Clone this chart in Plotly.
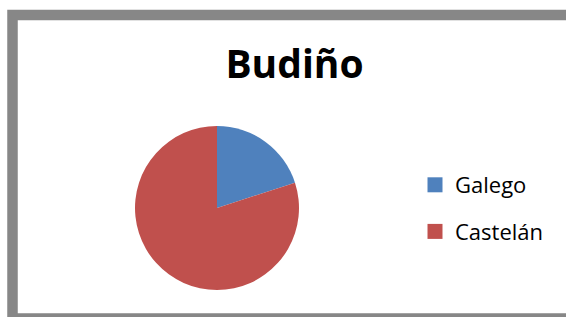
import plotly.graph_objects as go

labels = ["Galego", "Castelán"]
values = [20, 80]
colors = ["#4F81BD", "#C0504D"]
title_text = "Budiño"

W, H = 566, 317

fig = go.Figure()
fig.add_trace(go.Pie(
    labels=labels, values=values, sort=False, direction="clockwise", rotation=0,
    marker=dict(colors=colors, line=dict(width=0)),
    textinfo="none", hoverinfo="label+percent", showlegend=False,
    domain=dict(x=[135 / W, 299 / W], y=[27 / H, 191 / H]),
))
for i, (lab, col) in enumerate(zip(labels, colors)):
    fig.add_trace(go.Scatter(
        x=[None], y=[None], mode="markers", name=lab, legendgroup=lab,
        marker=dict(symbol="square", size=15, color=col),
        showlegend=True,
    ))

fig.update_layout(
    width=W, height=H,
    margin=dict(l=0, r=0, t=0, b=0),
    paper_bgcolor="white", plot_bgcolor="white",
    xaxis=dict(visible=False), yaxis=dict(visible=False),
    title=dict(text="<b>" + title_text + "</b>", x=294.5 / W, xanchor="center",
               y=(H - 64) / H, yanchor="middle", xref="paper", yref="paper",
               font=dict(family="Open Sans, sans-serif", size=39, color="black")),
    legend=dict(x=415 / W, xanchor="left", y=(H - 164) / H, yanchor="top",
                font=dict(family="Open Sans, sans-serif", size=22, color="black"),
                tracegroupgap=15, bgcolor="rgba(0,0,0,0)"),
    shapes=[dict(type="rect", xref="paper", yref="paper",
                 x0=12.5 / W, x1=580 / W, y0=(H - 318.5) / H, y1=(H - 15) / H,
                 line=dict(color="#878787", width=10.5), layer="above")],
)
fig.write_html("out.html", config=dict(displayModeBar=False),
               post_script="document.body.style.margin='0';document.body.style.overflow='hidden';")
